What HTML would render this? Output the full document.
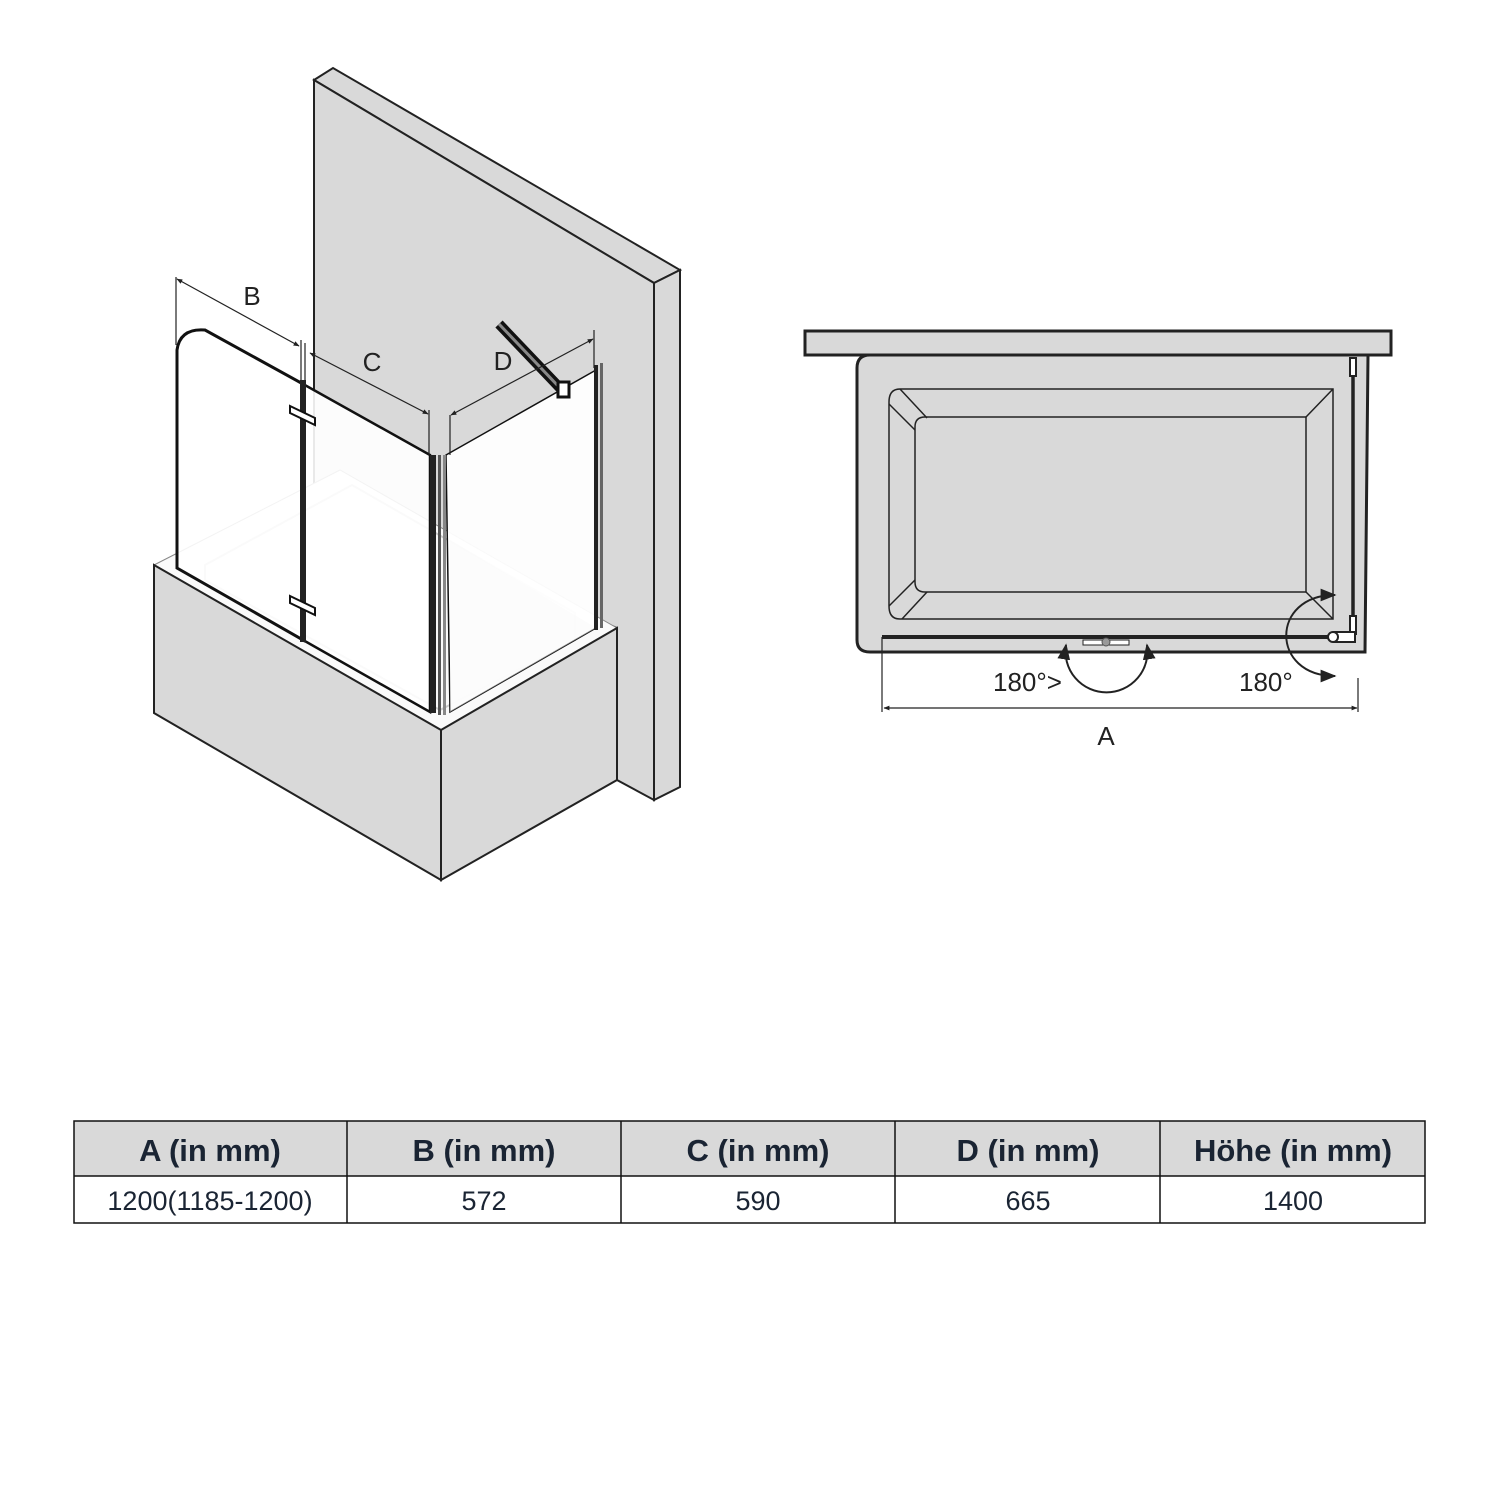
<!DOCTYPE html>
<html><head><meta charset="utf-8"><style>
html,body{margin:0;padding:0;background:#fff;width:1500px;height:1500px;overflow:hidden}
svg{position:absolute;left:0;top:0}
text{font-family:"Liberation Sans",sans-serif}
</style></head><body>
<svg width="1500" height="1500" viewBox="0 0 1500 1500" xmlns="http://www.w3.org/2000/svg">
<defs>
<marker id="ar" viewBox="0 0 10 10" refX="9" refY="5" markerWidth="8" markerHeight="8" orient="auto-start-reverse"><path d="M0,1 L10,5 L0,9 z" fill="#222"/></marker>
<marker id="as" viewBox="0 0 10 10" refX="9" refY="5" markerWidth="5" markerHeight="5" orient="auto-start-reverse"><path d="M0,1 L10,5 L0,9 z" fill="#222"/></marker>
</defs>
<!-- wall -->
<polygon points="314,80 333,68 680,270 654,283" fill="#d9d9d9" stroke="#222" stroke-width="2"/>
<polygon points="314,80 654,283 654,800 617,780 617,628 314,500" fill="#d9d9d9" stroke="#222" stroke-width="2"/>
<polygon points="654,283 680,270 680,787 654,800" fill="#d9d9d9" stroke="#222" stroke-width="2"/>
<!-- tub -->
<polygon points="154,565 340,470 617,628 441,730" fill="#fafafa" stroke="#888" stroke-width="1"/>
<polygon points="205,565 352,485 575,613 575,640 440,710 205,580" fill="none" stroke="#ccc" stroke-width="2"/>
<polygon points="154,565 441,730 441,880 154,713" fill="#d9d9d9" stroke="#222" stroke-width="2"/>
<polygon points="441,730 617,628 617,780 441,880" fill="#d9d9d9" stroke="#222" stroke-width="2"/>
<!-- glass panels -->
<path d="M177,568 L177,350 Q180,328 205,330 L303,384 L303,640 Z" fill="#fff" fill-opacity="0.9" stroke="#111" stroke-width="3"/>
<polygon points="303,384 430,455 430,712 303,640" fill="#fff" fill-opacity="0.9" stroke="#111" stroke-width="2.5"/>
<polygon points="446,455 596,370 596,628 450,712" fill="#fff" fill-opacity="0.95" stroke="#111" stroke-width="1.5"/>
<polygon points="450,540 596,628 450,712" fill="#fafafa" fill-opacity="0.5"/>
<rect x="300" y="380" width="6" height="262" fill="#222"/>
<g fill="#fff" stroke="#111" stroke-width="2">
<polygon points="290,406 315,418 315,425 290,413"/>
<polygon points="290,596 315,608 315,615 290,603"/>
</g>
<rect x="430" y="455" width="6" height="258" fill="#222"/>
<rect x="438" y="455" width="3" height="260" fill="#555"/>
<rect x="443" y="455" width="3" height="260" fill="#888"/>
<rect x="594" y="365" width="4" height="265" fill="#222"/>
<rect x="600" y="363" width="3" height="265" fill="#666"/>
<!-- rod -->
<line x1="499" y1="324" x2="560" y2="388" stroke="#111" stroke-width="10"/>
<line x1="499" y1="324" x2="560" y2="388" stroke="#888" stroke-width="3"/>
<rect x="558" y="382" width="11" height="15" fill="#fff" stroke="#111" stroke-width="3"/>
<!-- dims -->
<g stroke="#222" stroke-width="1.2" fill="none">
<line x1="176" y1="277" x2="176" y2="345"/>
<line x1="301" y1="340" x2="301" y2="384"/>
<line x1="305" y1="343" x2="305" y2="384"/>
<line x1="177" y1="279" x2="299" y2="346" marker-start="url(#as)" marker-end="url(#as)"/>
<line x1="310" y1="353" x2="428" y2="414" marker-start="url(#as)" marker-end="url(#as)"/>
<line x1="429" y1="410" x2="429" y2="455"/>
<line x1="450" y1="415" x2="450" y2="455"/>
<line x1="594" y1="330" x2="594" y2="368"/>
<line x1="451" y1="415" x2="593" y2="339" marker-start="url(#as)" marker-end="url(#as)"/>
</g>
<text x="252" y="305" font-size="26" text-anchor="middle" fill="#222">B</text>
<text x="372" y="371" font-size="26" text-anchor="middle" fill="#222">C</text>
<text x="503" y="370" font-size="26" text-anchor="middle" fill="#222">D</text>

<!-- plan view -->
<path d="M857,368 Q857,355 870,355 L1368,355 L1365,652 L870,652 Q857,652 857,640 Z" fill="#d9d9d9" stroke="#222" stroke-width="3"/>
<rect x="805" y="331" width="586" height="24" fill="#d9d9d9" stroke="#222" stroke-width="3"/>
<g stroke="#222" stroke-width="1.5" fill="none">
<path d="M900,389 L1333,389 L1333,619 L900,619 Q889,619 889,606 L889,402 Q889,389 900,389 Z"/>
<path d="M925,417 L1306,417 L1306,592 L925,592 Q915,592 915,582 L915,427 Q915,417 925,417 Z"/>
<line x1="900" y1="389" x2="927" y2="418"/>
<line x1="889" y1="404" x2="915" y2="430"/>
<line x1="1333" y1="389" x2="1306" y2="417"/>
<line x1="889" y1="606" x2="915" y2="580"/>
<line x1="902" y1="619" x2="927" y2="592"/>
<line x1="1333" y1="619" x2="1306" y2="592"/>
</g>
<line x1="882" y1="637" x2="1334" y2="637" stroke="#222" stroke-width="4"/>
<rect x="1083" y="640" width="46" height="5" fill="#fff" stroke="#222" stroke-width="1"/>
<circle cx="1106" cy="642" r="4" fill="#999" stroke="#555"/>
<line x1="1353" y1="360" x2="1353" y2="635" stroke="#222" stroke-width="3.5"/>
<rect x="1350" y="358" width="6" height="18" fill="#fff" stroke="#222" stroke-width="2"/>
<rect x="1350" y="616" width="6" height="18" fill="#fff" stroke="#222" stroke-width="2"/>
<path d="M1333,632 L1355,632 L1355,642 L1333,642" fill="#fff" stroke="#222" stroke-width="2"/>
<circle cx="1333" cy="637" r="5" fill="#fff" stroke="#222" stroke-width="2"/>
<g stroke="#222" stroke-width="2" fill="none">
<path d="M1066,645 A41,41 0 1 0 1147,645" marker-start="url(#ar)" marker-end="url(#ar)"/>
<path d="M1335,595 C1270,595 1270,676 1335,676" marker-start="url(#ar)" marker-end="url(#ar)"/>
</g>
<g stroke="#222" stroke-width="1.2">
<line x1="882" y1="637" x2="882" y2="712"/>
<line x1="1358" y1="678" x2="1358" y2="712"/>
<line x1="884" y1="708" x2="1357" y2="708" marker-start="url(#as)" marker-end="url(#as)"/>
</g>
<text x="993" y="691" font-size="26" fill="#222">180°&gt;</text>
<text x="1239" y="691" font-size="26" fill="#222">180°</text>
<text x="1106" y="745" font-size="26" text-anchor="middle" fill="#222">A</text>

<!-- table -->
<rect x="74" y="1121" width="1351" height="55" fill="#d9d9d9"/>
<g stroke="#111" stroke-width="1.5" fill="none">
<rect x="74" y="1121" width="1351" height="102"/>
<line x1="74" y1="1176" x2="1425" y2="1176"/>
<line x1="347" y1="1121" x2="347" y2="1223"/>
<line x1="621" y1="1121" x2="621" y2="1223"/>
<line x1="895" y1="1121" x2="895" y2="1223"/>
<line x1="1160" y1="1121" x2="1160" y2="1223"/>
</g>
<g font-size="31" font-weight="bold" fill="#1a2433" text-anchor="middle">
<text x="210" y="1161">A (in mm)</text>
<text x="484" y="1161">B (in mm)</text>
<text x="758" y="1161">C (in mm)</text>
<text x="1028" y="1161">D (in mm)</text>
<text x="1293" y="1161">Höhe (in mm)</text>
</g>
<g font-size="27" fill="#1a2433" text-anchor="middle">
<text x="210" y="1210">1200(1185-1200)</text>
<text x="484" y="1210">572</text>
<text x="758" y="1210">590</text>
<text x="1028" y="1210">665</text>
<text x="1293" y="1210">1400</text>
</g>
</svg>
</body></html>
